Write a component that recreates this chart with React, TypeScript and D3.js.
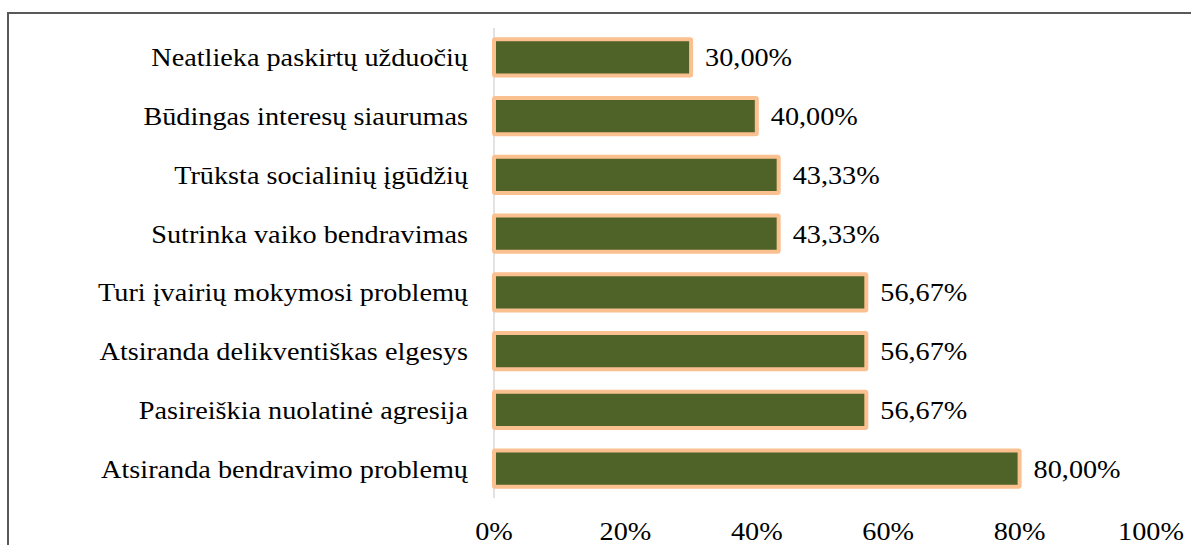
import { useEffect, useRef } from "react"
import * as d3 from "d3"

// categories top to bottom, as in the picture
const categories = [
  "Neatlieka paskirtų užduočių",
  "Būdingas interesų siaurumas",
  "Trūksta socialinių įgūdžių",
  "Sutrinka vaiko bendravimas",
  "Turi įvairių mokymosi problemų",
  "Atsiranda delikventiškas elgesys",
  "Pasireiškia nuolatinė agresija",
  "Atsiranda bendravimo problemų",
]
const values = [30.0, 40.0, 43.33, 43.33, 56.67, 56.67, 56.67, 80.0]
const ticks = [0, 20, 40, 60, 80, 100]

const fmt = (v: number) => v.toFixed(2).replace(".", ",") + "%"

const App = () => {
  const svgRef = useRef<SVGSVGElement>(null)

  useEffect(() => {
    const W = 1191
    const H = 545
    const svg = d3.select(svgRef.current)
    svg.selectAll("*").remove()

    const font = "Liberation Serif"
    const fontSize = 25
    const sx = 1.13 // the source text looks stretched sideways

    // frame
    svg.append("rect")
      .attr("x", 8).attr("y", 13)
      .attr("width", W + 20).attr("height", H + 20)
      .attr("fill", "none")
      .attr("stroke", "#595959")
      .attr("stroke-width", 2)

    const x = d3.scaleLinear().domain([0, 100]).range([494, 1151])
    const y = d3.scaleBand<string>().domain(categories).range([28, 498]).paddingInner(0.38).paddingOuter(0.19)

    // vertical axis line
    svg.append("line")
      .attr("x1", x(0)).attr("x2", x(0))
      .attr("y1", 28).attr("y2", 498)
      .attr("stroke", "#d9d9d9")
      .attr("stroke-width", 1.5)

    const data = categories.map((c, i) => ({ c, v: values[i] }))

    svg.append("g")
      .selectAll("rect")
      .data(data)
      .enter()
      .append("rect")
      .attr("x", x(0))
      .attr("y", d => y(d.c)!)
      .attr("width", d => x(d.v) - x(0))
      .attr("height", y.bandwidth())
      .attr("fill", "#4f6228")
      .attr("stroke", "#fac090")
      .attr("stroke-width", 4)
      .attr("rx", 1)

    const texts = svg.append("g")
      .attr("font-family", font)
      .attr("font-size", fontSize)
      .attr("fill", "#000")

    // category labels
    texts.append("g")
      .selectAll("text")
      .data(data)
      .enter()
      .append("text")
      .attr("transform", d => `translate(${x(0) - 26},${y(d.c)! + y.bandwidth() / 2 + 9}) scale(${sx},1)`)
      .attr("text-anchor", "end")
      .text(d => d.c)

    // value labels
    texts.append("g")
      .selectAll("text")
      .data(data)
      .enter()
      .append("text")
      .attr("transform", d => `translate(${x(d.v) + 14},${y(d.c)! + y.bandwidth() / 2 + 9}) scale(${sx},1)`)
      .text(d => fmt(d.v))

    // x tick labels
    texts.append("g")
      .selectAll("text")
      .data(ticks)
      .enter()
      .append("text")
      .attr("transform", d => `translate(${x(d)},540) scale(${sx},1)`)
      .attr("text-anchor", "middle")
      .text(d => d + "%")
  }, [])

  return (
    <svg
      ref={svgRef}
      width={1191}
      height={545}
      style={{ position: "absolute", left: 0, top: 0, background: "#fff" }}
    />
  )
}

export default App
